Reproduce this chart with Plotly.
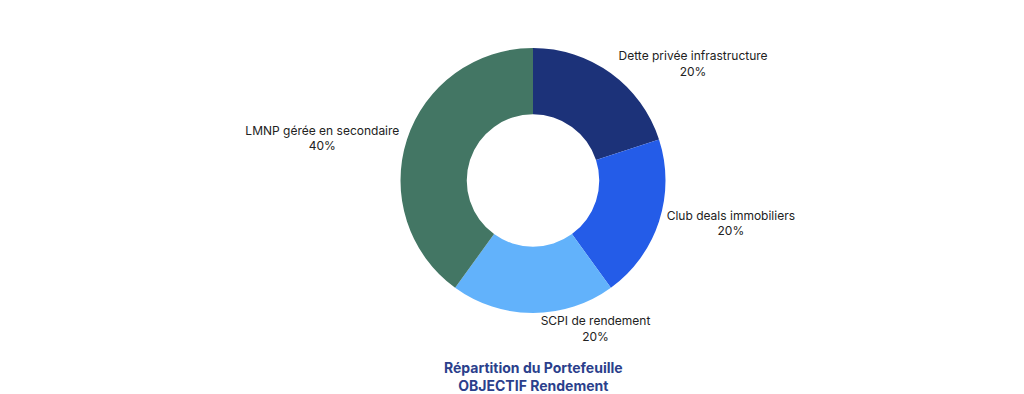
import plotly.graph_objects as go

labels = ["Dette privée infrastructure", "Club deals immobiliers", "SCPI de rendement", "LMNP gérée en secondaire"]
values = [20, 20, 20, 40]
colors = ["#1c3279", "#245ce8", "#62b2fb", "#437664"]
title_lines = ["Répartition du Portefeuille", "OBJECTIF Rendement"]

fig = go.Figure(go.Pie(
    labels=labels,
    values=values,
    hole=0.5,
    sort=False,
    direction="clockwise",
    rotation=0,
    marker=dict(colors=colors, line=dict(width=0)),
    textinfo="label+percent",
    textposition="outside",
    textfont=dict(family="Inter, Open Sans, sans-serif", size=12, color="#222222"),
    showlegend=False,
))

fig.update_layout(
    width=1024,
    height=394,
    margin=dict(l=0, r=0, t=40, b=89),
    paper_bgcolor="white",
    plot_bgcolor="white",
    annotations=[dict(
        text="<b>" + "<br>".join(title_lines) + "</b>",
        x=0.5, y=0, xref="paper", yref="paper",
        xanchor="center", yanchor="top", yshift=-44,
        showarrow=False,
        font=dict(family="Inter, Open Sans, sans-serif", size=14, color="#2b3f8c"),
    )],
)

fig.write_html("out.html")
